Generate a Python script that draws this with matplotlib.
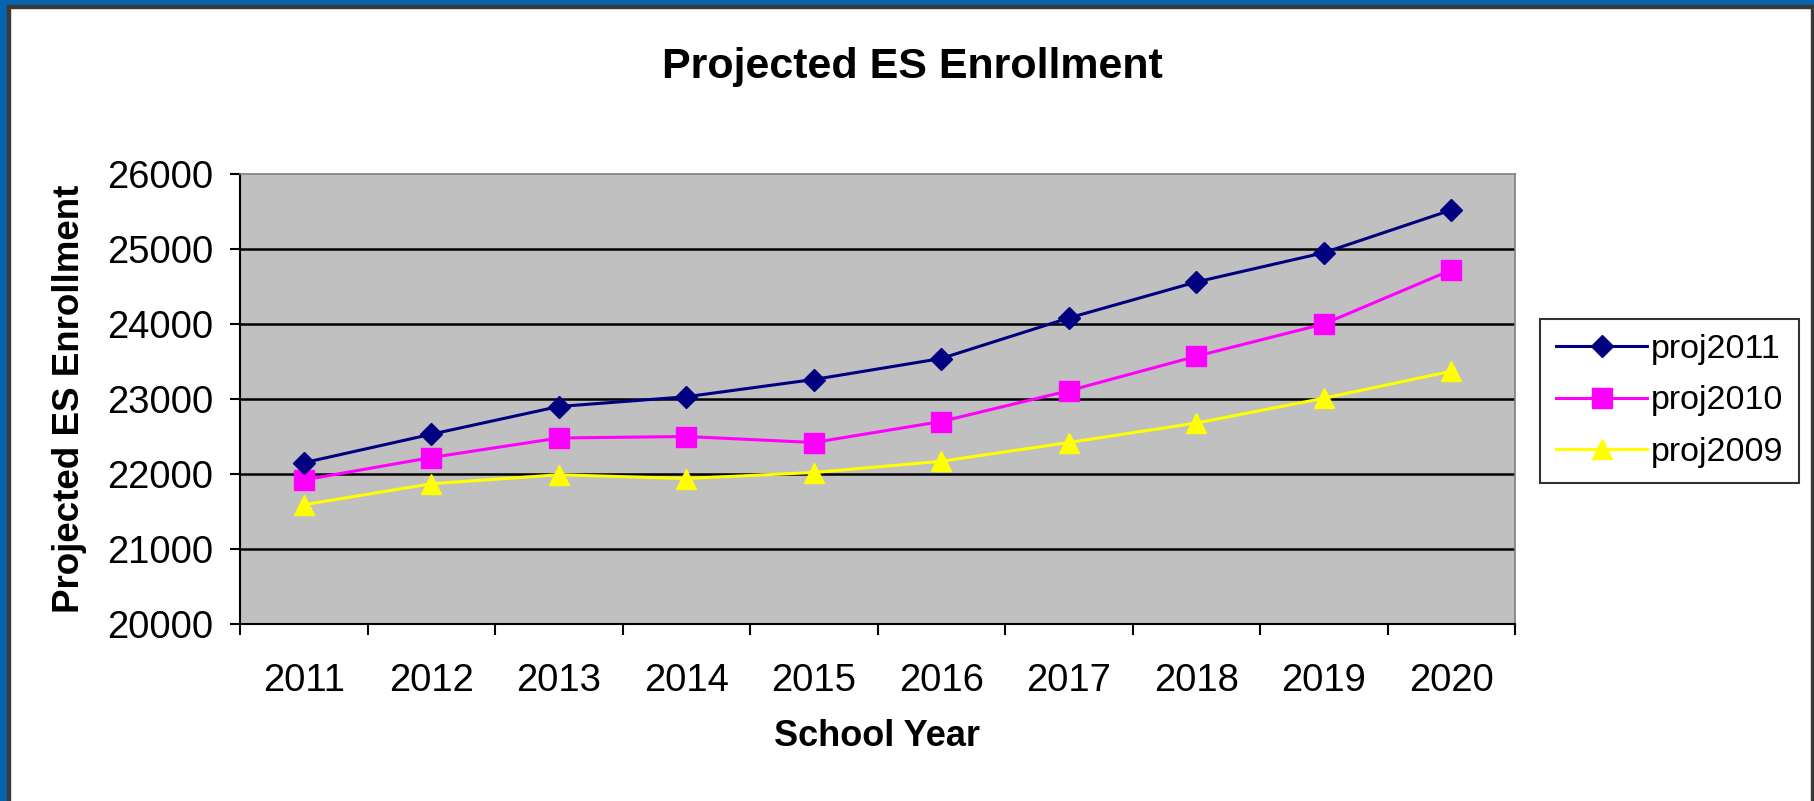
import matplotlib
matplotlib.use("Agg")
import matplotlib.pyplot as plt
from matplotlib.patches import Rectangle
import numpy as np

plt.rcParams['font.family'] = ['Liberation Sans', 'DejaVu Sans']

years = ['2011', '2012', '2013', '2014', '2015', '2016', '2017', '2018', '2019', '2020']
proj2011 = [22150, 22530, 22900, 23030, 23260, 23540, 24080, 24560, 24950, 25520]
proj2010 = [21920, 22220, 22480, 22500, 22420, 22700, 23110, 23570, 24000, 24720]
proj2009 = [21590, 21870, 21990, 21940, 22020, 22170, 22420, 22680, 23010, 23370]
y_ticks = [20000, 21000, 22000, 23000, 24000, 25000, 26000]

W, H = 1814, 801
fig = plt.figure(figsize=(W / 100, H / 100), dpi=100)
fig.patch.set_facecolor('white')

# blue frame + dark inner line
fig.add_artist(Rectangle((0, 0), 7 / W, 1, transform=fig.transFigure, color='#0563B0', zorder=0))
fig.add_artist(Rectangle((0, 1 - 5 / H), 1, 5 / H, transform=fig.transFigure, color='#0563B0', zorder=0))
fig.add_artist(Rectangle((7 / W, 0), 3 / W, 1 - 5 / H, transform=fig.transFigure, color='#3a3a3a', zorder=0))
fig.add_artist(Rectangle((7 / W, 1 - 8 / H), 1 - 7 / W, 3 / H, transform=fig.transFigure, color='#3a3a3a', zorder=0))
fig.add_artist(Rectangle((1 - 3 / W, 0), 3 / W, 1 - 5 / H, transform=fig.transFigure, color='#3a3a3a', zorder=0))

left, right, top, bottom = 240, 1515, 174, 624
ax = fig.add_axes([left / W, 1 - bottom / H, (right - left) / W, (bottom - top) / H])
ax.set_facecolor('#C0C0C0')

x = np.arange(len(years))
ax.plot(x, proj2011, color='#000080', lw=2.2, marker='D', ms=11, mec='#000080', label='proj2011', zorder=5)
ax.plot(x, proj2010, color='#FF00FF', lw=2.2, marker='s', ms=15, mec='#FF00FF', label='proj2010', zorder=4)
ax.plot(x, proj2009, color='#FFFF00', lw=2.2, marker='^', ms=15, mec='#FFFF00', label='proj2009', zorder=3)

ax.set_xlim(-0.5, len(years) - 0.5)
ax.set_ylim(20000, 26000)
ax.set_yticks(y_ticks)
ax.set_yticklabels([str(v) for v in y_ticks])
for v in y_ticks[1:-1]:
    ax.axhline(v, color='black', lw=1.8, zorder=1)

ax.set_xticks(x)
ax.set_xticklabels(years)
ax.set_xticks(np.arange(-0.5, len(years)), minor=True)
ax.tick_params(axis='x', which='major', length=0, pad=28, labelsize=27.5)
ax.tick_params(axis='x', which='minor', length=8, width=1.5, direction='out', color='black')
ax.tick_params(axis='y', which='major', length=7, width=1.5, direction='out', pad=12, labelsize=27.5)

for s in ['top', 'right']:
    ax.spines[s].set_color('#808080')
    ax.spines[s].set_linewidth(1.2)
for s in ['left', 'bottom']:
    ax.spines[s].set_color('black')
    ax.spines[s].set_linewidth(1.5)

fig.text(0.503, 1 - 67 / H, 'Projected ES Enrollment', ha='center', va='center',
         fontsize=31, fontweight='bold')
fig.text(70 / W, 1 - ((top + bottom) / 2) / H, 'Projected ES Enrollment', ha='center', va='center',
         rotation=90, fontsize=26.5, fontweight='bold')
fig.text(((left + right) / 2) / W, 1 - 736 / H, 'School Year', ha='center', va='center',
         fontsize=26, fontweight='bold')

leg = fig.legend(loc='center', bbox_to_anchor=(((1544 + 1795) / 2) / W, 1 - ((325 + 477) / 2) / H),
                 fontsize=24.5, frameon=True, fancybox=False, edgecolor='black',
                 handlelength=2.7, handletextpad=0.1, labelspacing=0.6, borderpad=0.45, borderaxespad=0)
leg.get_frame().set_linewidth(1.5)

fig.savefig('out.png', dpi=100, facecolor='white')
